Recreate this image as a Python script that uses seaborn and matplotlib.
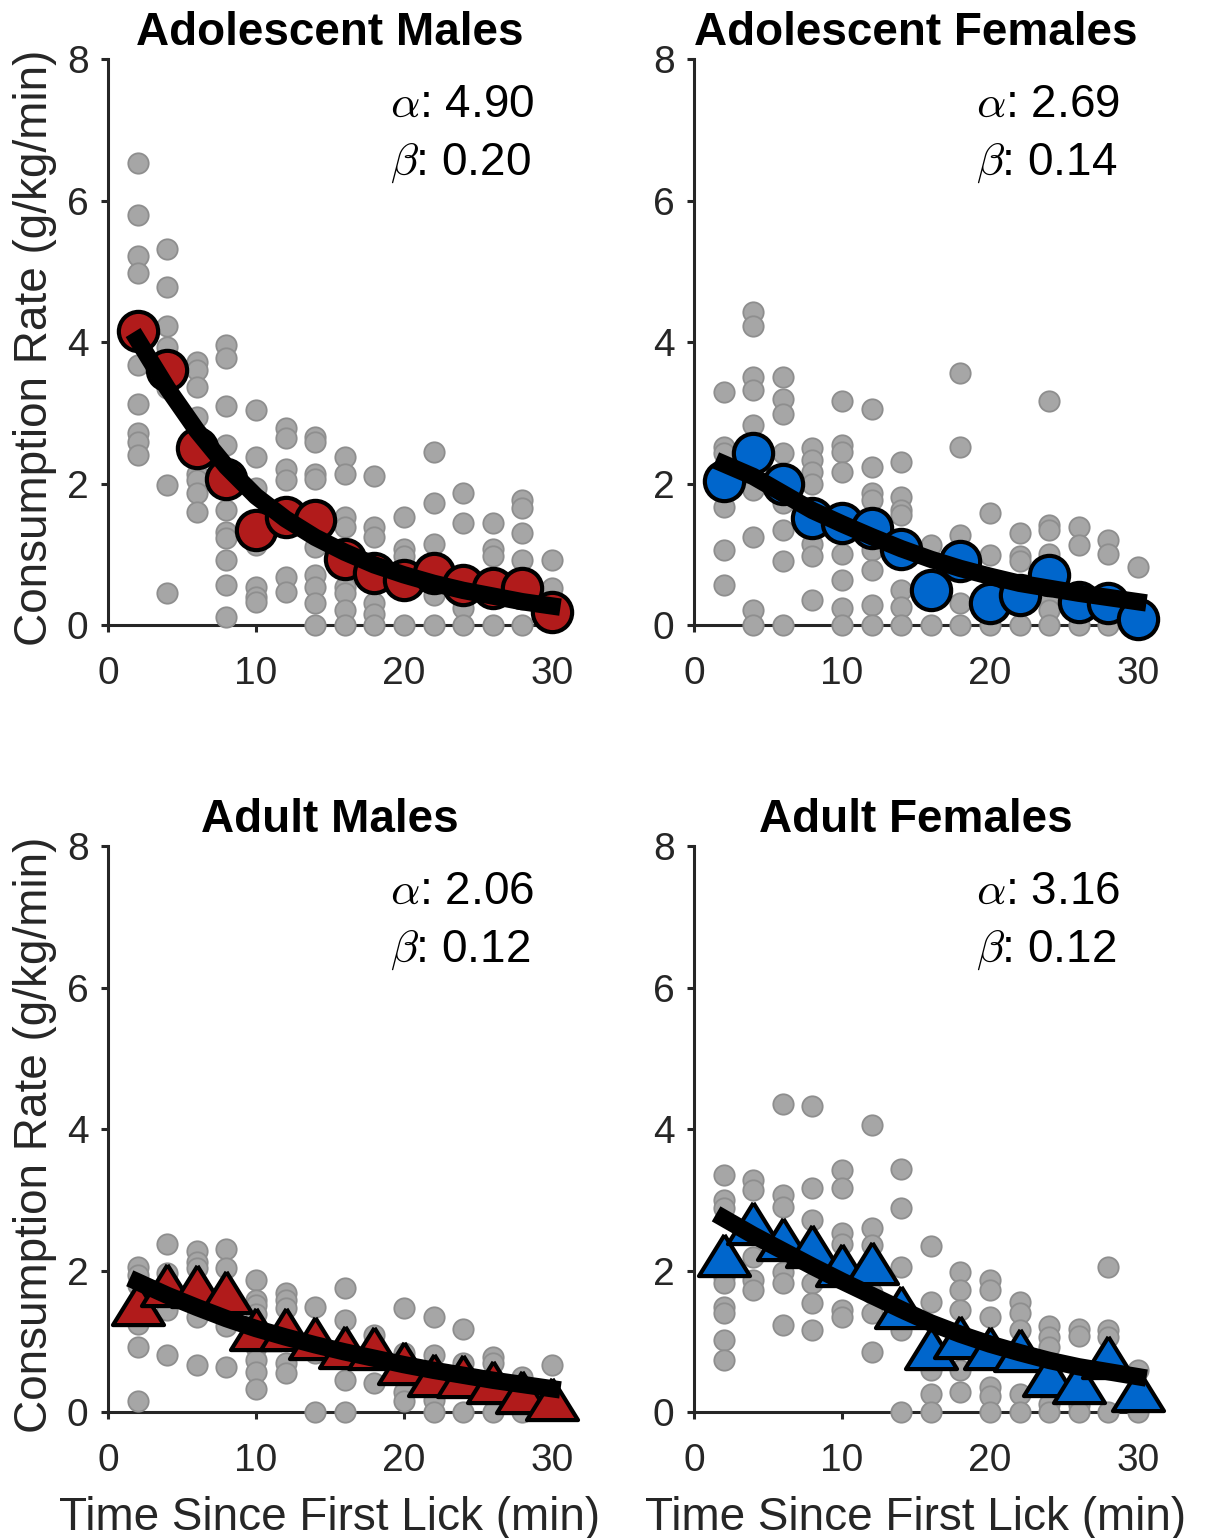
import numpy as np
import pandas as pd
import matplotlib
matplotlib.use("Agg")
import matplotlib.pyplot as plt
import seaborn as sns

# time bins (min since first lick)
times = [2, 4, 6, 8, 10, 12, 14, 16, 18, 20, 22, 24, 26, 28, 30]

# individual animals, one list per time bin
adol_m_pts = [
    [6.53, 5.80, 5.21, 4.97, 3.67, 3.13, 2.71, 2.59, 2.40],
    [5.32, 4.78, 4.22, 3.93, 3.35, 1.98, 0.45],
    [3.72, 3.60, 3.37, 2.94, 2.14, 2.05, 1.86, 1.60],
    [3.96, 3.77, 3.09, 2.54, 1.63, 1.32, 1.23, 0.92, 0.57, 0.12],
    [3.04, 2.38, 1.93, 1.13, 0.54, 0.40, 0.33],
    [2.78, 2.64, 2.21, 2.05, 0.68, 0.47],
    [2.66, 2.59, 2.14, 2.07, 1.11, 0.71, 0.54, 0.31, 0.0],
    [2.38, 2.14, 1.53, 1.39, 0.54, 0.45, 0.21, 0.0],
    [2.10, 1.39, 1.25, 0.31, 0.16, 0.0],
    [1.53, 1.08, 0.97, 0.0],
    [2.45, 1.72, 1.15, 0.42, 0.0],
    [1.86, 1.44, 0.24, 0.0],
    [1.44, 1.08, 0.97, 0.0],
    [1.77, 1.65, 1.30, 0.92, 0.0],
    [0.92, 0.52],
]
adol_f_pts = [
    [3.30, 2.52, 2.43, 1.67, 1.06, 0.57],
    [4.43, 4.22, 3.51, 3.32, 2.83, 1.91, 1.25, 0.21, 0.0],
    [3.50, 3.20, 2.99, 2.43, 1.72, 1.34, 0.90, 0.0],
    [2.50, 2.33, 2.17, 2.00, 1.15, 0.97, 0.35],
    [3.16, 2.54, 2.45, 2.17, 1.01, 0.64, 0.24, 0.0],
    [3.06, 2.24, 1.86, 1.77, 1.06, 0.78, 0.28, 0.0],
    [2.31, 1.81, 1.63, 1.55, 0.49, 0.26, 0.0],
    [1.13, 0.0],
    [3.56, 2.52, 1.27, 0.31, 0.0],
    [1.58, 0.99, 0.0],
    [1.30, 0.97, 0.90, 0.0],
    [3.16, 1.41, 1.34, 1.01, 0.38, 0.21, 0.0],
    [1.39, 1.13, 0.0],
    [1.20, 1.01, 0.0],
    [0.82],
]
adult_m_pts = [
    [2.05, 1.94, 1.80, 1.25, 0.92, 0.15],
    [2.38, 1.96, 1.44, 0.81],
    [2.27, 2.12, 2.03, 1.35, 0.66],
    [2.31, 2.03, 1.21, 0.64],
    [1.87, 1.58, 1.51, 1.39, 0.92, 0.73, 0.57, 0.33],
    [1.68, 1.58, 1.47, 0.69, 0.55],
    [1.49, 0.83, 0.0],
    [1.75, 1.30, 0.45, 0.0],
    [1.09, 0.41],
    [1.47, 0.83, 0.29, 0.15],
    [1.35, 0.81, 0.17, 0.0],
    [1.18, 0.69, 0.0],
    [0.78, 0.69, 0.0],
    [0.50, 0.0],
    [0.66],
]
adult_f_pts = [
    [3.35, 3.00, 2.88, 1.91, 1.82, 1.49, 1.40, 1.02, 0.73],
    [3.28, 3.14, 2.19, 1.87, 1.72],
    [4.36, 3.07, 2.90, 1.98, 1.82, 1.23],
    [4.32, 3.16, 2.71, 1.82, 1.54, 1.16],
    [3.42, 3.16, 2.53, 2.38, 1.44, 1.35],
    [4.06, 2.60, 2.36, 1.68, 1.40, 0.85],
    [3.43, 2.88, 2.05, 1.16, 0.0],
    [2.34, 1.56, 0.59, 0.26, 0.0],
    [1.98, 1.72, 1.44, 0.59, 0.29],
    [1.87, 1.72, 1.35, 0.36, 0.22, 0.0],
    [1.56, 1.40, 1.16, 0.26, 0.0],
    [1.21, 1.06, 0.92, 0.12, 0.0],
    [1.18, 1.08, 0.10, 0.0],
    [2.05, 1.16, 1.06, 0.0],
    [0.59, 0.0],
]

# group means
adol_m_mean = [4.15, 3.60, 2.50, 2.07, 1.34, 1.53, 1.48, 0.94, 0.73, 0.64, 0.73, 0.57, 0.52, 0.52, 0.19]
adol_f_mean = [2.03, 2.43, 2.00, 1.51, 1.44, 1.37, 1.08, 0.49, 0.90, 0.31, 0.42, 0.71, 0.33, 0.31, 0.09]
adult_m_mean = [1.53, 1.80, 1.78, 1.70, 1.17, 1.18, 1.04, 0.92, 0.91, 0.70, 0.52, 0.51, 0.42, 0.28, 0.18]
adult_f_mean = [2.22, 2.67, 2.45, 2.34, 2.08, 2.10, 1.49, 0.90, 1.06, 0.91, 0.88, 0.52, 0.43, 0.78, 0.31]

# fitted curves
adol_m_fit = [4.03, 3.35, 2.75, 2.24, 1.82, 1.50, 1.24, 1.03, 0.85, 0.71, 0.59, 0.49, 0.41, 0.33, 0.27]
adol_f_fit = [2.28, 2.10, 1.86, 1.62, 1.43, 1.25, 1.08, 0.93, 0.80, 0.69, 0.59, 0.52, 0.45, 0.39, 0.33]
adult_m_fit = [1.84, 1.65, 1.48, 1.32, 1.18, 1.06, 0.95, 0.85, 0.76, 0.67, 0.59, 0.52, 0.45, 0.39, 0.33]
adult_f_fit = [2.74, 2.50, 2.28, 2.06, 1.85, 1.65, 1.45, 1.26, 1.10, 0.96, 0.84, 0.73, 0.64, 0.57, 0.50]

titles = ['Adolescent Males', 'Adolescent Females', 'Adult Males', 'Adult Females']
alphas = ['4.90', '2.69', '2.06', '3.16']
betas = ['0.20', '0.14', '0.12', '0.12']

RED = '#B11B1B'
BLUE = '#0066CC'
AX_COL = '#262626'

sns.set_style('ticks')
plt.rcParams['font.family'] = ['Liberation Sans', 'DejaVu Sans']
plt.rcParams['mathtext.fontset'] = 'cm'

# wide triangle like the original marker
tri = [(0, 1), (-1.24, -1), (1.24, -1), (0, 1)]

fig = plt.figure(figsize=(12.06, 15.38), dpi=100)
positions = [
    [0.0896, 0.5936, 0.368, 0.368],
    [0.5755, 0.5936, 0.368, 0.368],
    [0.0896, 0.0819, 0.368, 0.368],
    [0.5755, 0.0819, 0.368, 0.368],
]
groups = [
    (adol_m_pts, adol_m_mean, adol_m_fit, RED, 'o', 800),
    (adol_f_pts, adol_f_mean, adol_f_fit, BLUE, 'o', 800),
    (adult_m_pts, adult_m_mean, adult_m_fit, RED, tri, 1350),
    (adult_f_pts, adult_f_mean, adult_f_fit, BLUE, tri, 1350),
]

for i, (pts, means, fit, col, mk, msize) in enumerate(groups):
    ax = fig.add_axes(positions[i])

    indiv = pd.DataFrame({
        'time': [t for t, vals in zip(times, pts) for _ in vals],
        'rate': [v for vals in pts for v in vals],
    })
    summ = pd.DataFrame({'time': times, 'mean': means, 'fit': fit})

    sns.scatterplot(data=indiv, x='time', y='rate', ax=ax, s=215, color='#A6A6A6',
                    edgecolor='#8E8E8E', linewidth=1.3, legend=False, zorder=3, clip_on=False)
    sns.scatterplot(data=summ, x='time', y='mean', ax=ax, s=msize, marker=mk, color=col,
                    edgecolor='black', linewidth=3.0, legend=False, zorder=4, clip_on=False)
    sns.lineplot(data=summ, x='time', y='fit', ax=ax, color='black', linewidth=12.5,
                 legend=False, zorder=5, clip_on=False, solid_capstyle='projecting')

    ax.set_xlim(0, 30)
    ax.set_ylim(0, 8)
    ax.set_xticks([0, 10, 20, 30])
    ax.set_yticks([0, 2, 4, 6, 8])
    sns.despine(ax=ax)
    for sp in ['left', 'bottom']:
        ax.spines[sp].set_linewidth(2.2)
        ax.spines[sp].set_color(AX_COL)
    ax.tick_params(axis='both', direction='out', length=5, width=2.2, color=AX_COL,
                   labelsize=28, labelcolor=AX_COL)
    ax.tick_params(axis='x', pad=17)
    ax.tick_params(axis='y', pad=9)

    ax.set_title(titles[i], fontsize=33, fontweight='bold', pad=10, color='black')

    ax.text(19.05, 7.35, r'$\alpha$: ' + alphas[i], fontsize=33, ha='left', va='center',
            color='black')
    ax.text(19.05, 6.53, r'$\beta$: ' + betas[i], fontsize=33, ha='left', va='center',
            color='black')

    if i % 2 == 0:
        ax.set_ylabel('Consumption Rate (g/kg/min)', fontsize=33, color=AX_COL)
        ax.yaxis.set_label_coords(-0.114, 0.49)
    else:
        ax.set_ylabel('')
    if i >= 2:
        ax.set_xlabel('Time Since First Lick (min)', fontsize=33, color=AX_COL)
        ax.xaxis.set_label_coords(0.5, -0.148)
    else:
        ax.set_xlabel('')

fig.savefig('out.png', dpi=100)
